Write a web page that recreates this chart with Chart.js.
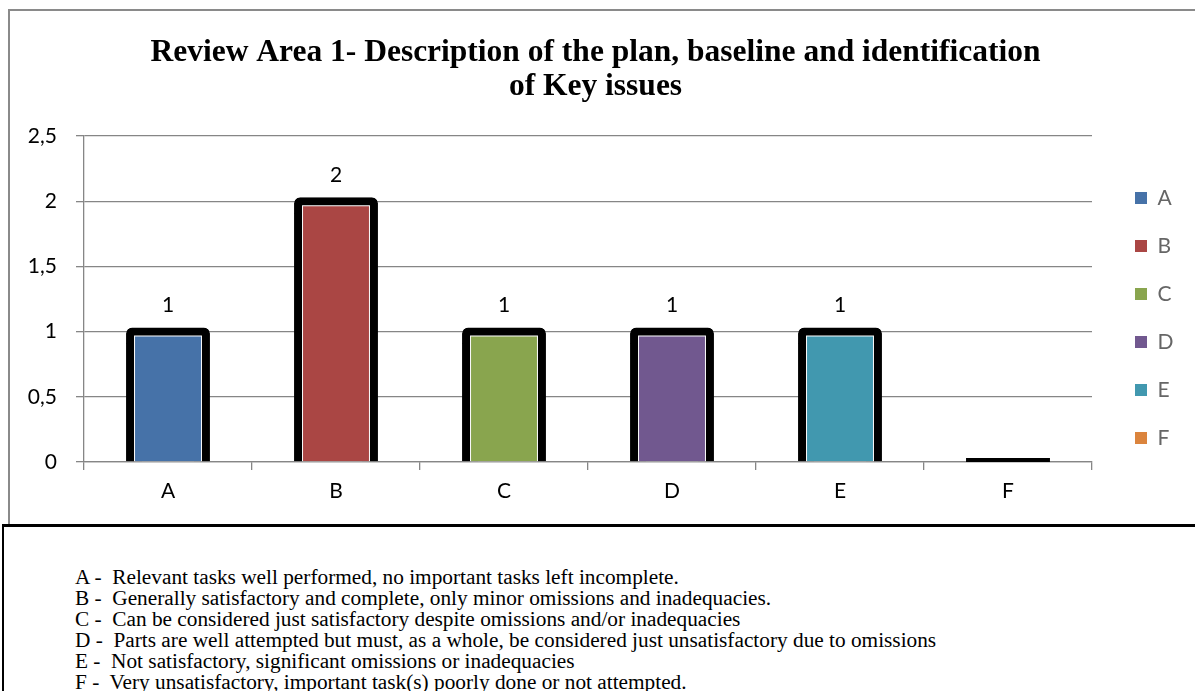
<!DOCTYPE html>
<html>
<head>
<meta charset="utf-8">
<script src="https://cdn.jsdelivr.net/npm/chart.js@4.4.1/dist/chart.umd.min.js"></script>
<style>
  html, body { margin: 0; padding: 0; background: #fff; width: 1195px; height: 691px; overflow: hidden; }
  #frame { position: absolute; left: 8px; top: 9px; width: 1187px; height: 515px; box-sizing: border-box;
           border-left: 2px solid #8a8a8a; border-top: 2px solid #8a8a8a; }
  #wrap { position: absolute; left: 10px; top: 11px; width: 1185px; height: 513px; }
  #notes { position: absolute; left: 2px; top: 524px; width: 1193px; height: 167px; box-sizing: border-box;
           border-top: 3px solid #000; border-left: 2px solid #000; padding: 40px 0 0 71px;
           font-family: 'Liberation Serif', 'Times New Roman', serif; font-size: 21.3px; line-height: 21px; color: #000; }
  #notes div { white-space: pre; }
</style>
</head>
<body>
<div id="frame"></div>
<div id="wrap"><canvas id="chart" width="1185" height="513"></canvas></div>
<div id="notes"></div>
<script>
// Rating categories and how many reviews fell into each
const categories = ['A', 'B', 'C', 'D', 'E', 'F'];
const counts = [1, 2, 1, 1, 1, 0];
const barColors = ['#4672a8', '#aa4644', '#89a54e', '#71588f', '#4198af', '#db843d'];
const titleLines = [
  'Review Area 1- Description of the plan, baseline and identification',
  'of Key issues'
];
const noteLines = [
  'A -  Relevant tasks well performed, no important tasks left incomplete.',
  'B -  Generally satisfactory and complete, only minor omissions and inadequacies.',
  'C -  Can be considered just satisfactory despite omissions and/or inadequacies',
  'D -  Parts are well attempted but must, as a whole, be considered just unsatisfactory due to omissions',
  'E -  Not satisfactory, significant omissions or inadequacies',
  'F -  Very unsatisfactory, important task(s) poorly done or not attempted.'
];

// Key text under the chart
const notesEl = document.getElementById('notes');
noteLines.forEach(t => {
  const d = document.createElement('div');
  d.textContent = t;
  notesEl.appendChild(d);
});

const tickFont = { family: 'Lato, Carlito, sans-serif', size: 21 };
const gridGray = '#868686';

// Value printed above each non-empty bar
const valueLabels = {
  id: 'valueLabels',
  afterDatasetsDraw(chart) {
    const meta = chart.getDatasetMeta(0);
    const c = chart.ctx;
    c.save();
    c.font = '21px Lato, Carlito, sans-serif';
    c.fillStyle = '#000';
    c.textAlign = 'center';
    c.textBaseline = 'middle';
    meta.data.forEach((el, i) => {
      const v = counts[i];
      if (!v) return;
      c.fillText(String(v), el.x, el.y - 26);
    });
    c.restore();
  }
};

// Keep the legend column a fixed width
const legendWidth = {
  id: 'legendWidth',
  beforeLayout(chart) {
    const lg = chart.legend;
    if (lg && !lg._fixedFit) {
      const fit = lg.fit;
      lg.fit = function () { fit.call(this); this.width = 73; };
      lg._fixedFit = true;
    }
  }
};

const barGeom = {
  grouped: false,
  barPercentage: 0.452,
  categoryPercentage: 1,
  borderSkipped: 'start',
  clip: { left: false, right: false, top: false, bottom: 0 }
};

new Chart(document.getElementById('chart'), {
  type: 'bar',
  data: {
    labels: categories,
    datasets: [
      // coloured body of each bar
      Object.assign({
        label: 'Reviews',
        data: counts,
        backgroundColor: barColors,
        borderColor: 'rgba(0,0,0,0)',
        borderWidth: c => (c.raw === 0 ? 0 : 5),
        inflateAmount: 0,
        borderRadius: 0,
        order: 1
      }, barGeom),
      // heavy black outline with a thin white inner edge
      Object.assign({
        label: 'frame',
        data: counts,
        backgroundColor: c => (c.raw === 0 ? '#000' : '#fff'),
        borderColor: '#000',
        borderWidth: c => (c.raw === 0 ? 0 : 8),
        inflateAmount: 4,
        borderRadius: { topLeft: 6, topRight: 6, bottomLeft: 0, bottomRight: 0 },
        order: 2
      }, barGeom)
    ]
  },
  options: {
    responsive: false,
    animation: false,
    events: [],
    layout: { padding: { left: 0, right: 14, top: 0, bottom: 0 } },
    plugins: {
      tooltip: { enabled: false },
      title: {
        display: true,
        text: titleLines,
        color: '#000',
        font: { family: "'Liberation Serif', 'Times New Roman', serif", size: 31.5, weight: 'bold', lineHeight: 34 / 31.5 },
        padding: { top: 25, bottom: 32 }
      },
      legend: {
        position: 'right',
        align: 'center',
        title: { display: true, text: ' ', font: { size: 10, lineHeight: 1 }, padding: { top: 91, bottom: 0 } },
        labels: {
          font: tickFont,
          color: '#000',
          boxWidth: 12,
          boxHeight: 12,
          padding: 27,
          generateLabels: () => categories.map((cat, i) => ({
            text: cat,
            fillStyle: barColors[i],
            strokeStyle: barColors[i],
            lineWidth: 0,
            hidden: false,
            index: i,
            datasetIndex: 0
          }))
        }
      }
    },
    scales: {
      x: {
        grid: { display: true, drawOnChartArea: false, drawTicks: true, tickLength: 8, offset: true, color: gridGray, lineWidth: 1.3 },
        border: { display: true, color: gridGray, width: 1.3 },
        ticks: { font: tickFont, color: '#000', padding: 9 },
        afterFit(s) { s.height = 62; }
      },
      y: {
        min: 0,
        max: 2.5,
        grid: { color: gridGray, lineWidth: 1.3, tickLength: 8, drawTicks: true },
        border: { display: true, color: gridGray, width: 1.3 },
        ticks: {
          stepSize: 0.5,
          font: tickFont,
          color: '#000',
          padding: 19,
          callback: v => String(v).replace('.', ',')
        },
        afterFit(s) { s.width = 74; }
      },
      spacer: {
        type: 'linear',
        position: 'right',
        display: true,
        grid: { display: false },
        border: { display: false },
        ticks: { display: false },
        afterFit(s) { s.width = 16; }
      }
    }
  },
  plugins: [valueLabels, legendWidth]
});
</script>
</body>
</html>
